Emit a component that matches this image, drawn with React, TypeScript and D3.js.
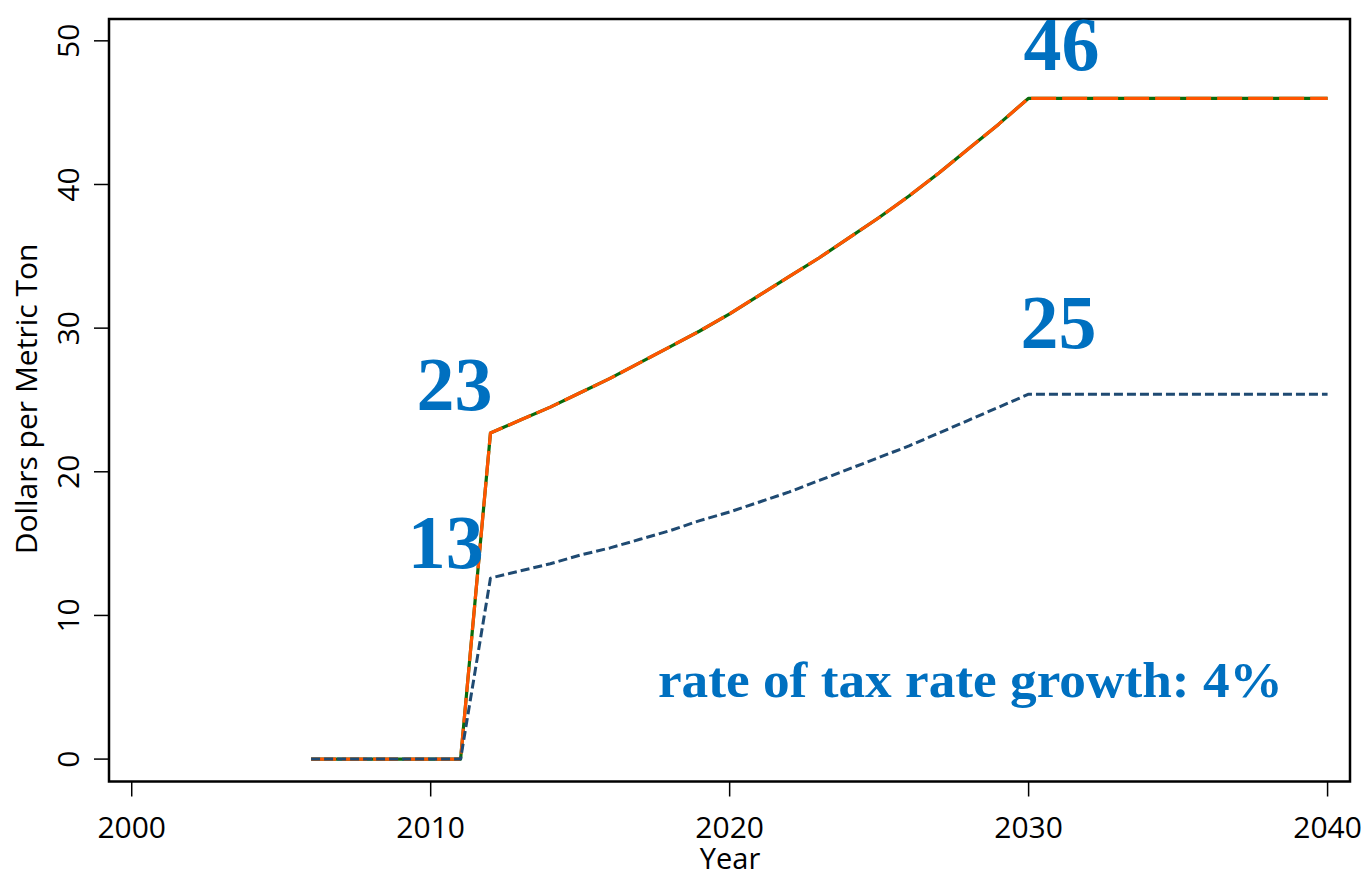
import React from "react";
import * as d3 from "d3";

const years: number[] = [2006, 2007, 2008, 2009, 2010, 2011, 2012, 2013, 2014, 2015, 2016, 2017, 2018, 2019, 2020, 2021, 2022, 2023, 2024, 2025, 2026, 2027, 2028, 2029, 2030, 2031, 2032, 2033, 2034, 2035, 2036, 2037, 2038, 2039, 2040];
const highTax: number[] = [0, 0, 0, 0, 0, 0, 22.7, 23.6, 24.5, 25.5, 26.5, 27.6, 28.7, 29.8, 31.0, 32.3, 33.6, 34.9, 36.3, 37.7, 39.2, 40.8, 42.5, 44.2, 46.0, 46.0, 46.0, 46.0, 46.0, 46.0, 46.0, 46.0, 46.0, 46.0, 46.0];
const lowTax: number[] = [0, 0, 0, 0, 0, 0, 12.6, 13.1, 13.6, 14.2, 14.7, 15.3, 15.9, 16.6, 17.2, 17.9, 18.6, 19.4, 20.2, 21.0, 21.8, 22.7, 23.6, 24.5, 25.4, 25.4, 25.4, 25.4, 25.4, 25.4, 25.4, 25.4, 25.4, 25.4, 25.4];
const xTicks: number[] = [2000, 2010, 2020, 2030, 2040];
const yTicks: number[] = [0, 10, 20, 30, 40, 50];
const annotations: { label: string; year: number; value: number }[] = [
  { label: "46", year: 2031.1, value: 48.0 },
  { label: "25", year: 2031.0, value: 28.6 },
  { label: "23", year: 2010.8, value: 24.3 },
  { label: "13", year: 2010.5, value: 13.3 },
];
const note = "rate of tax rate growth: 4%";

const W = 1369;
const H = 873;
const left = 109, right = 1350, top = 19, bottom = 781.5;

export default function App() {
  const x = d3.scaleLinear().domain([1999.24, 2040.75]).range([left, right]);
  const y = d3.scaleLinear().domain([-1.56, 51.52]).range([bottom, top]);
  const hi = years.map((yr, i) => [yr, highTax[i]] as [number, number]);
  const lo = years.map((yr, i) => [yr, lowTax[i]] as [number, number]);
  const line = d3.line<[number, number]>().x(d => x(d[0])).y(d => y(d[1]));
  const axisFont = "'Open Sans', sans-serif";
  const serif = "'Liberation Serif', 'Times New Roman', serif";
  return (
    <svg width={W} height={H} style={{ position: "absolute", left: 0, top: 0, background: "#fff" }}>
      <rect x={0} y={0} width={W} height={H} fill="#fff" />
      {/* lines */}
      <path d={line(hi) || ""} fill="none" stroke="#0a6b0a" strokeWidth={3.2} strokeLinejoin="round" />
      <path d={line(hi) || ""} fill="none" stroke="#ff5500" strokeWidth={3.2} strokeDasharray="25 6" strokeLinejoin="round" />
      <path d={line(lo) || ""} fill="none" stroke="#1f4a72" strokeWidth={3} strokeDasharray="9 4" strokeLinejoin="round" />
      {/* frame */}
      <rect x={left} y={top} width={right - left} height={bottom - top} fill="none" stroke="#000" strokeWidth={2.5} />
      {/* x axis */}
      {xTicks.map(t => (
        <g key={"x" + t}>
          <line x1={x(t)} x2={x(t)} y1={bottom} y2={bottom + 15} stroke="#000" strokeWidth={1.5} />
          <text x={x(t)} y={838} textAnchor="middle" fontFamily={axisFont} fontSize={30} fill="#000">{t}</text>
        </g>
      ))}
      {yTicks.map(t => (
        <g key={"y" + t}>
          <line x1={left - 15} x2={left} y1={y(t)} y2={y(t)} stroke="#000" strokeWidth={1.5} />
          <text transform={`translate(79,${y(t)}) rotate(-90)`} textAnchor="middle" fontFamily={axisFont} fontSize={30} fill="#000">{t}</text>
        </g>
      ))}
      <text x={730} y={869} textAnchor="middle" fontFamily={axisFont} fontSize={29} fill="#000">Year</text>
      <text transform={`translate(37,399) rotate(-90)`} textAnchor="middle" fontFamily={axisFont} fontSize={30} fill="#000">Dollars per Metric Ton</text>
      {/* annotations */}
      {annotations.map(a => (
        <text key={a.label} x={x(a.year)} y={y(a.value)} textAnchor="middle" fontFamily={serif} fontWeight="bold" fontSize={76} fill="#0070c0">{a.label}</text>
      ))}
      <text x={x(2017.6)} y={697} textAnchor="start" fontFamily={serif} fontWeight="bold" fontSize={50} fill="#0070c0" textLength={625} lengthAdjust="spacingAndGlyphs">{note}</text>
    </svg>
  );
}
